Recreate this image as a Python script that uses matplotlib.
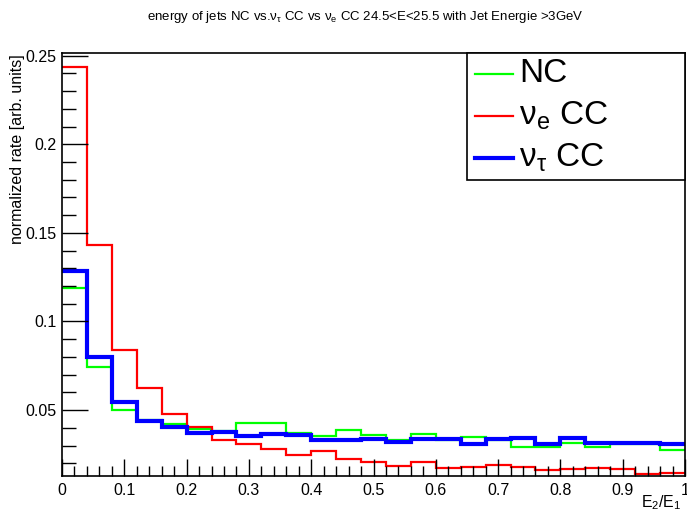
import numpy as np
import matplotlib
matplotlib.use("Agg")
import matplotlib.pyplot as plt
from matplotlib.ticker import MultipleLocator, FuncFormatter
from matplotlib.lines import Line2D
from matplotlib.patches import Rectangle

plt.rcParams['font.family'] = ['Liberation Sans', 'DejaVu Sans']
plt.rcParams['mathtext.fontset'] = 'custom'
plt.rcParams['mathtext.rm'] = 'Liberation Sans'
plt.rcParams['mathtext.it'] = 'Liberation Sans:italic'

# bin edges of E2/E1 (25 bins from 0 to 1)
edges = np.linspace(0.0, 1.0, 26)

nc = [0.1188, 0.0741, 0.0500, 0.0444, 0.0421, 0.0396, 0.0380, 0.0428, 0.0428,
      0.0369, 0.0352, 0.0390, 0.0360, 0.0333, 0.0363, 0.0331, 0.0347, 0.0329,
      0.0292, 0.0290, 0.0312, 0.0290, 0.0309, 0.0307, 0.0275]
nue_cc = [0.2434, 0.1432, 0.0839, 0.0626, 0.0479, 0.0406, 0.0331, 0.0307, 0.0281,
          0.0248, 0.0268, 0.0224, 0.0205, 0.0184, 0.0207, 0.0172, 0.0179, 0.0189,
          0.0177, 0.0161, 0.0165, 0.0172, 0.0168, 0.0140, 0.0146]
nutau_cc = [0.1287, 0.0798, 0.0545, 0.0436, 0.0406, 0.0368, 0.0374, 0.0356, 0.0366,
            0.0358, 0.0331, 0.0329, 0.0338, 0.0322, 0.0336, 0.0338, 0.0311, 0.0338,
            0.0345, 0.0307, 0.0345, 0.0315, 0.0316, 0.0315, 0.0309]

series = [
    (nc, '#00ff00', 1.6, 'NC'),
    (nue_cc, '#ff0000', 1.6, r'$\mathrm{\nu_{e}}$ CC'),
    (nutau_cc, '#0000ff', 3.0, r'$\mathrm{\nu_{\tau}}$ CC'),
]

W, H = 687, 512
fig = plt.figure(figsize=(W / 100, H / 100), dpi=100)
ax = fig.add_axes([62 / W, 1 - 476 / H, (685 - 62) / W, (476 - 53) / H])

for vals, col, lw, lab in series:
    ax.stairs(vals, edges, baseline=None, color=col, lw=lw, label=lab)

ax.set_xlim(0, 1)
ax.set_ylim(0.0128, 0.2515)

ax.xaxis.set_major_locator(MultipleLocator(0.1))
ax.xaxis.set_minor_locator(MultipleLocator(0.02))
ax.yaxis.set_major_locator(MultipleLocator(0.05))
ax.yaxis.set_minor_locator(MultipleLocator(0.01))
ax.xaxis.set_major_formatter(FuncFormatter(lambda v, p: '%g' % round(v, 3)))
ax.yaxis.set_major_formatter(FuncFormatter(lambda v, p: '%g' % round(v, 3)))

ax.tick_params(which='both', direction='in', top=False, right=False,
               labelsize=11.5, width=1)
ax.tick_params(axis='y', which='major', length=19, pad=4)
ax.tick_params(axis='y', which='minor', length=10)
ax.tick_params(axis='x', which='major', length=12, pad=5)
ax.tick_params(axis='x', which='minor', length=7)
for s in ax.spines.values():
    s.set_linewidth(1.2)

fig.text(18 / W, 1 - 54 / H, 'normalized rate [arb. units]', rotation=90,
         ha='center', va='top', fontsize=11.5)
fig.text(682 / W, 1 - 493 / H, r'E$_{2}$/E$_{1}$', ha='right', va='top',
         fontsize=11.5)
fig.text(365 / W, 1 - 17 / H,
         r'energy of jets NC vs.$\mathrm{\nu_{\tau}}$ CC vs $\mathrm{\nu_{e}}$ CC 24.5<E<25.5 with Jet Energie >3GeV',
         ha='center', va='center', fontsize=9.5)

# legend box, drawn by hand in figure pixels
fig.add_artist(Rectangle((467 / W, 1 - 180 / H), (685 - 467) / W, 127 / H,
                         transform=fig.transFigure, facecolor='white',
                         edgecolor='black', lw=1.2, zorder=5))
for i, (vals, col, lw, lab) in enumerate(series):
    yc = 1 - (74 + 42 * i) / H
    fig.add_artist(Line2D([475 / W, 513 / W], [yc, yc], color=col, lw=lw,
                          transform=fig.transFigure, zorder=6))
    fig.text(519 / W, yc, lab, ha='left', va='center', fontsize=24, zorder=6)

fig.savefig('out.png', dpi=100)
